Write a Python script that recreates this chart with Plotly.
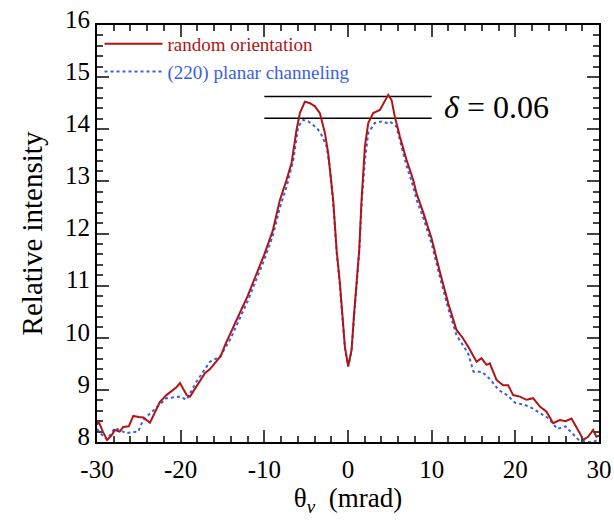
import plotly.graph_objects as go

# random orientation (red solid)
x_random = [-30, -29.8, -29.3, -28.8, -28.3, -27.85, -27.3, -26.86, -26.2, -25.66, -25.0, -24.47, -23.67,
            -23.0, -22.47, -21.7, -21.08, -20.5, -20.08, -19.6, -19.29, -18.89, -18.0, -17.1, -16.5,
            -15.9, -15.2, -14.7, -13.9, -13.0, -12.0, -11.0, -10.0, -9.0, -8.14, -7.34, -6.75, -6.15,
            -5.75, -5.15, -4.55, -3.95, -3.36, -2.76, -2.37, -1.77, -1.36, -0.97, -0.65, -0.37, 0.02,
            0.43, 0.7, 1.03, 1.34, 1.62, 2.02, 2.42, 3.01, 3.81, 4.41, 4.81, 5.21, 5.6, 6.2, 7.0, 7.79,
            8.19, 9.0, 10.0, 11.0, 12.0, 12.97, 13.7, 14.36, 15.36, 15.95, 16.55, 16.95, 17.75, 18.54,
            19.14, 19.74, 20.54, 21.33, 22.13, 22.93, 23.73, 24.52, 25.32, 26.0, 26.71, 27.71, 28.1,
            28.7, 29.3, 29.69, 30]
y_random = [8.33, 8.39, 8.2, 8.04, 8.12, 8.23, 8.2, 8.29, 8.3, 8.5, 8.48, 8.47, 8.37,
            8.6, 8.77, 8.9, 8.97, 9.05, 9.13, 9.0, 8.9, 8.87, 9.1, 9.32, 9.4,
            9.51, 9.65, 9.86, 10.15, 10.45, 10.8, 11.2, 11.6, 12.05, 12.64, 13.03, 13.35, 13.99,
            14.31, 14.53, 14.5, 14.44, 14.31, 13.93, 13.54, 12.64, 11.68, 11.05, 10.4, 9.83, 9.45,
            9.77, 10.4, 11.05, 11.68, 12.64, 13.67, 14.12, 14.31, 14.37, 14.56, 14.66, 14.56, 14.24,
            13.86, 13.41, 13.03, 12.77, 12.4, 11.9, 11.25, 10.65, 10.15, 10.0, 9.83, 9.54, 9.61,
            9.48, 9.51, 9.19, 9.09, 9.09, 8.9, 8.87, 8.81, 8.84, 8.68, 8.58, 8.36, 8.42, 8.4, 8.45,
            8.17, 8.04, 8.1, 8.23, 8.1, 8.12]

# (220) planar channeling (blue dotted)
x_channel = [-30, -29.5, -28.8, -27.85, -26.5, -25.07, -24.5, -22.9, -21.7, -20.1, -19.3, -18.1,
             -16.5, -15.3, -14.1, -13.0, -12.0, -11.0, -10.0, -9.0, -8.14, -7.34, -6.54, -5.95,
             -5.35, -4.75, -4.16, -3.56, -3.16, -2.56, -2.2, -1.77, -1.36, -0.97, -0.65, -0.37,
             0.02, 0.43, 0.7, 1.03, 1.34, 1.62, 2.02, 2.42, 3.21, 4.01, 4.61, 5.0, 5.8, 6.39, 7.0,
             7.79, 8.19, 9.0, 10.0, 11.0, 12.0, 12.97, 14.36, 15.0, 16.0, 17.0, 18.0, 19.0, 20.0,
             21.0, 22.0, 23.0, 24.0, 25.0, 26.0, 27.5, 28.5, 29.3, 30]
y_channel = [8.25, 8.15, 8.05, 8.27, 8.17, 8.2, 8.42, 8.65, 8.84, 8.87, 8.81, 9.16,
             9.54, 9.64, 9.96, 10.35, 10.7, 11.1, 11.5, 11.95, 12.5, 12.9, 13.41, 14.05,
             14.18, 14.15, 14.08, 13.99, 13.89, 13.67, 13.3, 12.6, 11.65, 11.0, 10.35, 9.8,
             9.45, 9.75, 10.35, 11.0, 11.65, 12.55, 13.4, 13.93, 14.12, 14.15, 14.12, 14.15, 14.05,
             13.67, 13.3, 12.9, 12.65, 12.3, 11.8, 11.15, 10.55, 10.05, 9.7, 9.35, 9.35, 9.2, 9.0,
             8.9, 8.75, 8.72, 8.65, 8.55, 8.45, 8.25, 8.3, 8.05, 8.0, 8.0, 8.05]

# tick labels
x_tickvals = [-30, -20, -10, 0, 10, 20, 30]
x_ticklabels = ["-30", "-20", "-10", "0", "10", "20", "30"]
y_tickvals = [8, 9, 10, 11, 12, 13, 14, 15, 16]
y_ticklabels = ["8", "9", "10", "11", "12", "13", "14", "15", "16"]

# delta marker lines
delta_x = [-10, 10]
delta_levels = [14.63, 14.21]

red = "#b01515"
blue = "#3a5ee8"
font_family = "Times New Roman, Liberation Serif, serif"

fig = go.Figure()
for lvl in delta_levels:
    fig.add_trace(go.Scatter(x=delta_x, y=[lvl, lvl], mode="lines",
                             line=dict(color="black", width=1.5), showlegend=False,
                             hoverinfo="skip"))
fig.add_trace(go.Scatter(x=x_channel, y=y_channel, mode="lines",
                         line=dict(color=blue, width=2, dash="dot"),
                         name=f"<span style='color:{blue}'>(220) planar channeling</span>"))
fig.add_trace(go.Scatter(x=x_random, y=y_random, mode="lines",
                         line=dict(color=red, width=2),
                         name=f"<span style='color:{red}'>random orientation</span>"))

fig.add_annotation(x=11.2, y=14.42, xref="x", yref="y", xanchor="left", yanchor="middle",
                   text="<i>δ</i> = 0.06", showarrow=False,
                   font=dict(family=font_family, size=32, color="black"))

fig.update_layout(
    width=614, height=525,
    margin=dict(l=97, r=15, t=25, b=83),
    paper_bgcolor="white", plot_bgcolor="white",
    font=dict(family=font_family, size=24, color="black"),
    showlegend=True,
    legend=dict(x=0.005, y=1.0, xanchor="left", yanchor="top", traceorder="reversed",
                bgcolor="rgba(0,0,0,0)", font=dict(size=19, family=font_family),
                itemwidth=58, tracegroupgap=0),
    xaxis=dict(range=[-30, 30], tickmode="array", tickvals=x_tickvals, ticktext=x_ticklabels,
               ticks="inside", ticklen=12, tickwidth=1.5, ticklabelstandoff=4, automargin=False,
               showline=True, linecolor="black", linewidth=2, mirror="allticks",
               showgrid=False, zeroline=False,
               minor=dict(dtick=2, tick0=0, ticks="inside", ticklen=6, tickwidth=1.5, showgrid=False),
               title=dict(text="θ<sub><i>v</i></sub>  (mrad)", font=dict(size=27, family=font_family), standoff=4),
               tickfont=dict(size=25, family=font_family)),
    yaxis=dict(range=[8, 16], tickmode="array", tickvals=y_tickvals, ticktext=y_ticklabels,
               ticks="inside", ticklen=12, tickwidth=1.5, ticklabelshift=-6, automargin=False,
               showline=True, linecolor="black", linewidth=2, mirror="allticks",
               showgrid=False, zeroline=False,
               minor=dict(dtick=0.2, tick0=0, ticks="inside", ticklen=6, tickwidth=1.5, showgrid=False),
               title=dict(text="Relative intensity", font=dict(size=29, family=font_family), standoff=14),
               tickfont=dict(size=25, family=font_family)),
)

fig.write_html("out.html")
